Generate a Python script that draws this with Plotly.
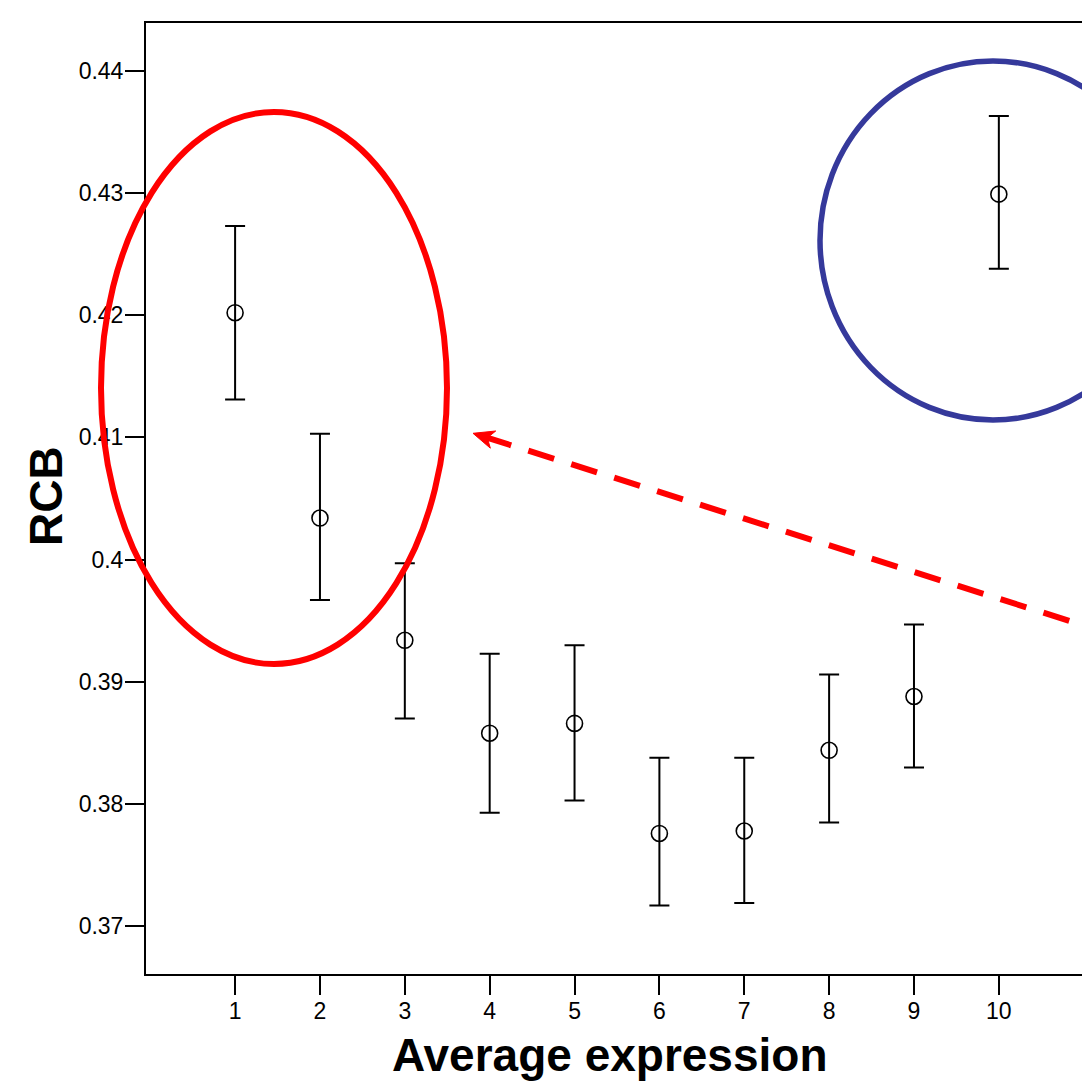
import plotly.graph_objects as go

# ---- data ----
categories = [1, 2, 3, 4, 5, 6, 7, 8, 9, 10]
rcb_mean = [0.4202, 0.4034, 0.3934, 0.3858, 0.3866, 0.3776, 0.3778, 0.3844, 0.3888, 0.4299]
err_upper = [0.4273, 0.4103, 0.3997, 0.3923, 0.3930, 0.3838, 0.3838, 0.3906, 0.3947, 0.4363]
err_lower = [0.4131, 0.3967, 0.3870, 0.3793, 0.3803, 0.3717, 0.3719, 0.3785, 0.3830, 0.4238]
y_tickvals = [0.37, 0.38, 0.39, 0.40, 0.41, 0.42, 0.43, 0.44]
y_ticktext = ["0.37", "0.38", "0.39", "0.4", "0.41", "0.42", "0.43", "0.44"]
x_ticktext = [str(c) for c in categories]

W, H = 1082, 1082
ML, MR, MT, MB = 146, 0, 23, 108
PW = W - ML - MR
PH = H - MT - MB


def px(x):
    return (x - ML) / PW


def py(y):
    return (H - MB - y) / PH


err_plus = [u - m for u, m in zip(err_upper, rcb_mean)]
err_minus = [m - l for m, l in zip(rcb_mean, err_lower)]

fig = go.Figure()
fig.add_trace(go.Scatter(
    x=categories, y=rcb_mean, mode="markers",
    marker=dict(symbol="circle-open", size=16, color="black",
                line=dict(width=1.6, color="black")),
    error_y=dict(type="data", symmetric=False, array=err_plus,
                 arrayminus=err_minus, color="black", thickness=2, width=10),
    showlegend=False, cliponaxis=False,
))

shapes = []
# red ellipse
shapes.append(dict(type="circle", xref="paper", yref="paper",
                   x0=px(101), x1=px(447), y0=py(664), y1=py(112),
                   line=dict(color="#ff0000", width=6)))
# blue circle
shapes.append(dict(type="circle", xref="paper", yref="paper",
                   x0=px(820), x1=px(1166), y0=py(420), y1=py(61),
                   line=dict(color="#35399b", width=5.5)))
# dashed arrow shaft
ux, uy = 0.954, 0.300
tipx, tipy = 473, 433.3
sx, sy = tipx + 13 * ux, tipy + 13 * uy
ex, ey = tipx + 700 * ux, tipy + 700 * uy
shapes.append(dict(type="line", xref="paper", yref="paper",
                   x0=px(sx), y0=py(sy), x1=px(ex), y1=py(ey),
                   line=dict(color="#ff0000", width=6, dash="27px,18px")))
# arrowhead
nx, ny = -uy, ux
L, Hw, N = 21, 9, 15
c1 = (tipx + L * ux + Hw * nx, tipy + L * uy + Hw * ny)
c2 = (tipx + L * ux - Hw * nx, tipy + L * uy - Hw * ny)
nt = (tipx + N * ux, tipy + N * uy)
path = "M {} {} L {} {} L {} {} L {} {} Z".format(
    px(tipx), py(tipy), px(c1[0]), py(c1[1]), px(nt[0]), py(nt[1]), px(c2[0]), py(c2[1]))
shapes.append(dict(type="path", xref="paper", yref="paper", path=path,
                   fillcolor="#ff0000", line=dict(color="#ff0000", width=1)))

annotations = [
    dict(text="<b>Average expression</b>", xref="paper", yref="paper",
         x=px(610), y=py(1055), xanchor="center", yanchor="middle",
         showarrow=False, font=dict(size=46, color="black")),
    dict(text="<b>RCB</b>", xref="paper", yref="paper",
         x=px(46), y=py(496), xanchor="center", yanchor="middle", textangle=-90,
         showarrow=False, font=dict(size=46, color="black")),
]

fig.update_layout(
    width=W, height=H,
    margin=dict(l=ML, r=MR, t=MT, b=MB, pad=0),
    paper_bgcolor="white", plot_bgcolor="white",
    font=dict(family="Liberation Sans, Arial, sans-serif", color="black", size=23),
    shapes=shapes, annotations=annotations,
    xaxis=dict(range=[-0.05, 10.98], tickvals=categories, ticktext=x_ticktext,
               showgrid=False, zeroline=False, showline=True, linecolor="black",
               linewidth=2, mirror=True, ticks="outside", ticklen=19, tickwidth=2,
               tickcolor="black", tickfont=dict(size=23), ticklabelstandoff=-4),
    yaxis=dict(range=[0.3661, 0.4439], tickvals=y_tickvals, ticktext=y_ticktext,
               showgrid=False, zeroline=False, showline=True, linecolor="black",
               linewidth=2, ticks="outside", ticklen=19, tickwidth=2,
               tickcolor="black", tickfont=dict(size=23), ticklabelstandoff=-3),
)

fig.write_html(
    "out.html",
    config={"displayModeBar": False},
    post_script="document.body.style.margin='0';document.body.style.overflow='hidden';",
)
